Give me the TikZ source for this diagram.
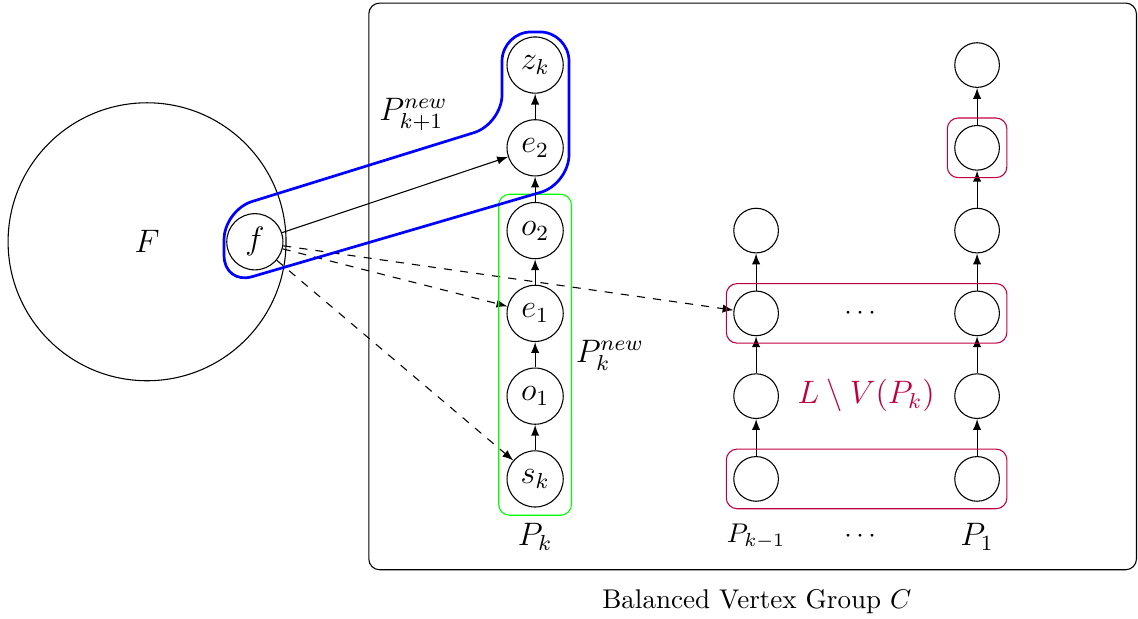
\documentclass[tikz,border=0pt]{standalone}
\usetikzlibrary{fit}

\begin{document}
\begin{tikzpicture}[>=latex]
	\useasboundingbox (0,0) rectangle (14.78,-8.03);

	\draw[rounded corners=4pt] (4.79,-0.04) rectangle (14.76,-7.40);
	\node at (9.83,-7.81) {Balanced Vertex Group $C$};

	\node[circle,draw,minimum size=3.61cm,font=\large] (F) at (1.91,-3.14) {$F$};

	\begin{scope}[every node/.style={circle,draw,inner sep=0pt,minimum size=.73cm,font=\large}]
		\node (f) at (3.31,-3.14) {$f$};
		\node (sk) at (6.95,-6.22) {$s_k$};
		\node (o1) at (6.95,-5.145) {$o_1$};
		\node (e1) at (6.95,-4.07) {$e_1$};
		\node (o2) at (6.95,-2.995) {$o_2$};
		\node (e2) at (6.95,-1.92) {$e_2$};
		\node (zk) at (6.95,-0.845) {$z_k$};
	\end{scope}

	\begin{scope}[every node/.style={circle,draw,inner sep=0pt,minimum size=.58cm}]
		\node (a1) at (9.82,-6.22) {};
		\node (a2) at (9.82,-5.145) {};
		\node (a3) at (9.82,-4.07) {};
		\node (a4) at (9.82,-2.995) {};

		\node (b1) at (12.69,-6.22) {};
		\node (b2) at (12.69,-5.145) {};
		\node (b3) at (12.69,-4.07) {};
		\node (b4) at (12.69,-2.995) {};
		\node (b5) at (12.69,-1.92) {};
		\node (b6) at (12.69,-0.845) {};
	\end{scope}

	\begin{scope}[->]
		\path (sk) edge (o1);
		\path (o1) edge (e1);
		\path (e1) edge (o2);
		\path (o2) edge (e2);
		\path (e2) edge (zk);
		\path (a1) edge (a2);
		\path (a2) edge (a3);
		\path (a3) edge (a4);
		\path (b1) edge (b2);
		\path (b2) edge (b3);
		\path (b3) edge (b4);
		\path (b4) edge (b5);
		\path (b5) edge (b6);
		\path (f) edge (e2);
		\path[dashed] (f) edge (e1);
		\path[dashed] (f) edge (sk);
		\path[dashed] (f) edge (a3);
	\end{scope}

	\node[draw=green,rounded corners=4pt,inner sep=.1cm,fit=(o2)(sk)] (pkbox) {};
	\begin{scope}[every node/.style={draw=purple,rounded corners=4pt,inner sep=.09cm}]
		\node[fit=(a1)(b1)] (lowbox) {};
		\node[fit=(a3)(b3)] (midbox) {};
		\node[fit=(b5)] (topbox) {};
	\end{scope}

	% path P_{k+1}^{new}
	\draw[blue,line width=1pt,rounded corners=.38cm,line cap=round] (2.91,-3.2) -- (2.91,-2.73) -- (6.52,-1.61)
		-- (6.52,-0.415) -- (7.39,-0.415) -- (7.39,-2.39) -- (2.91,-3.70) -- (2.91,-3.2);

	\node at (11.17,-4.07) {$\cdots$};
	\node at (11.17,-6.97) {$\cdots$};
	\node[purple,font=\large] at (11.25,-5.14) {$L\setminus V(P_k)$};

	\node[font=\large] at (6.95,-6.97) {$P_k$};
	\node at (9.82,-6.97) {$P_{k-1}$};
	\node[font=\large] at (12.69,-6.97) {$P_1$};
	\node[font=\large,inner sep=1pt] at (7.92,-4.61) {$P_k^{new}$};
	\node[font=\large,inner sep=1pt] at (5.37,-1.49) {$P_{k+1}^{new}$};
\end{tikzpicture}
\end{document}
